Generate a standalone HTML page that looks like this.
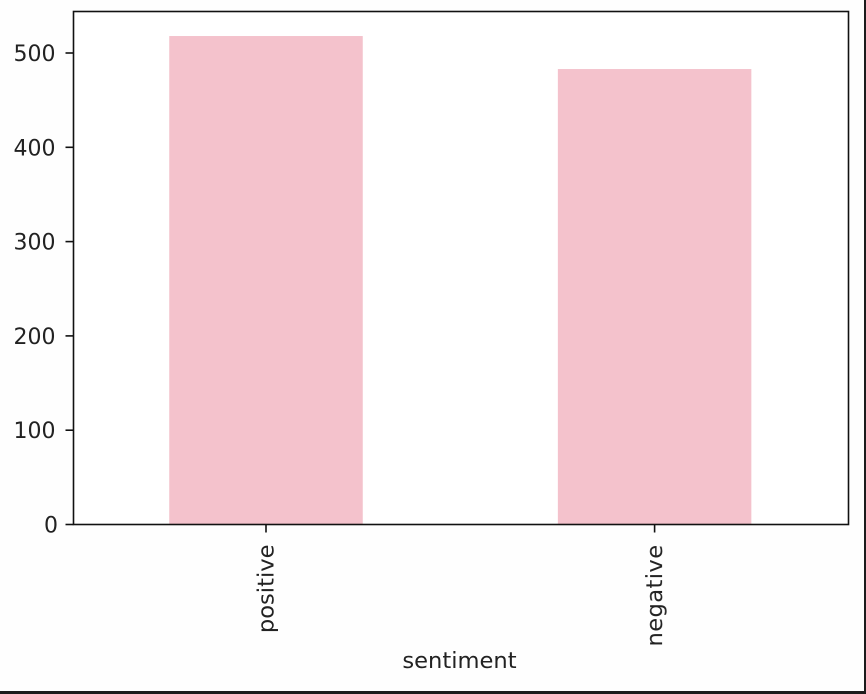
<!DOCTYPE html>
<html>
<head>
<meta charset="utf-8">
<style>
html,body{margin:0;padding:0;width:866px;height:694px;overflow:hidden;background:#fefefe}
svg{display:block;position:absolute;left:0;top:0}
text{font-family:"DejaVu Sans","Liberation Sans",sans-serif;fill:#222222;filter:blur(0.3px)}
</style>
</head>
<body>
<svg id="chart" width="866" height="694" viewBox="0 0 866 694" xmlns="http://www.w3.org/2000/svg"></svg>
<script>
const categories = ['positive', 'negative'];
const counts = [518, 483];
const yTicks = [0, 100, 200, 300, 400, 500];
const xAxisTitle = 'sentiment';

const NS = 'http://www.w3.org/2000/svg';
const svg = document.getElementById('chart');
const plot = {left: 73.5, right: 848.5, top: 11.5, bottom: 524.5};
const yScale = v => plot.bottom - v * 0.943;
const xScale = i => 266 + i * 388.6;
const barWidth = 193.5;
const fontSize = 22.6;
const yFontSize = 22;

function make(tag, attrs, parent) {
  const el = document.createElementNS(NS, tag);
  for (const k in attrs) el.setAttribute(k, attrs[k]);
  (parent || svg).appendChild(el);
  return el;
}

const plotBg = make('rect', {x: plot.left, y: plot.top, width: plot.right - plot.left, height: plot.bottom - plot.top, fill: '#ffffff'});



counts.forEach((v, i) => {
  const bar = make('rect', {x: xScale(i) - barWidth / 2, y: yScale(v), width: barWidth, height: plot.bottom - yScale(v), fill: '#f4c2cc'});
  
  
});

yTicks.forEach(t => {
  const y = yScale(t);
  const tick = make('line', {x1: plot.left - 8, x2: plot.left, y1: y, y2: y, stroke: '#111', 'stroke-width': 1.6});
  
  
  const labelRight = t < 100 ? plot.left - 15.5 : plot.left - 18;
  const label = make('text', {x: labelRight, y: y + 8, 'text-anchor': 'end', 'font-size': yFontSize});
  label.textContent = t;
  
  
});

categories.forEach((c, i) => {
  const x = xScale(i);
  const tick = make('line', {x1: x, x2: x, y1: plot.bottom, y2: plot.bottom + 8, stroke: '#111', 'stroke-width': 1.6});
  
  
  const label = make('text', {'text-anchor': 'end', 'font-size': fontSize, 'letter-spacing': i === 1 ? 0.4 : 0, transform: 'translate(' + (x + 7.5) + ',' + (plot.bottom + 20) + ') rotate(-90)'});
  label.textContent = c;
  
  
});

const frame = make('rect', {x: plot.left, y: plot.top, width: plot.right - plot.left, height: plot.bottom - plot.top, fill: 'none', stroke: '#111', 'stroke-width': 1.6});



const title = make('text', {x: 459.5, y: 668, 'text-anchor': 'middle', 'font-size': fontSize});
title.textContent = xAxisTitle;



const edgeRight = make('rect', {x: 864, y: 0, width: 2, height: 694, fill: '#1c1c1c'});


const edgeBottom = make('rect', {x: 0, y: 691, width: 866, height: 3, fill: '#1c1c1c'});


</script>
</body>
</html>
